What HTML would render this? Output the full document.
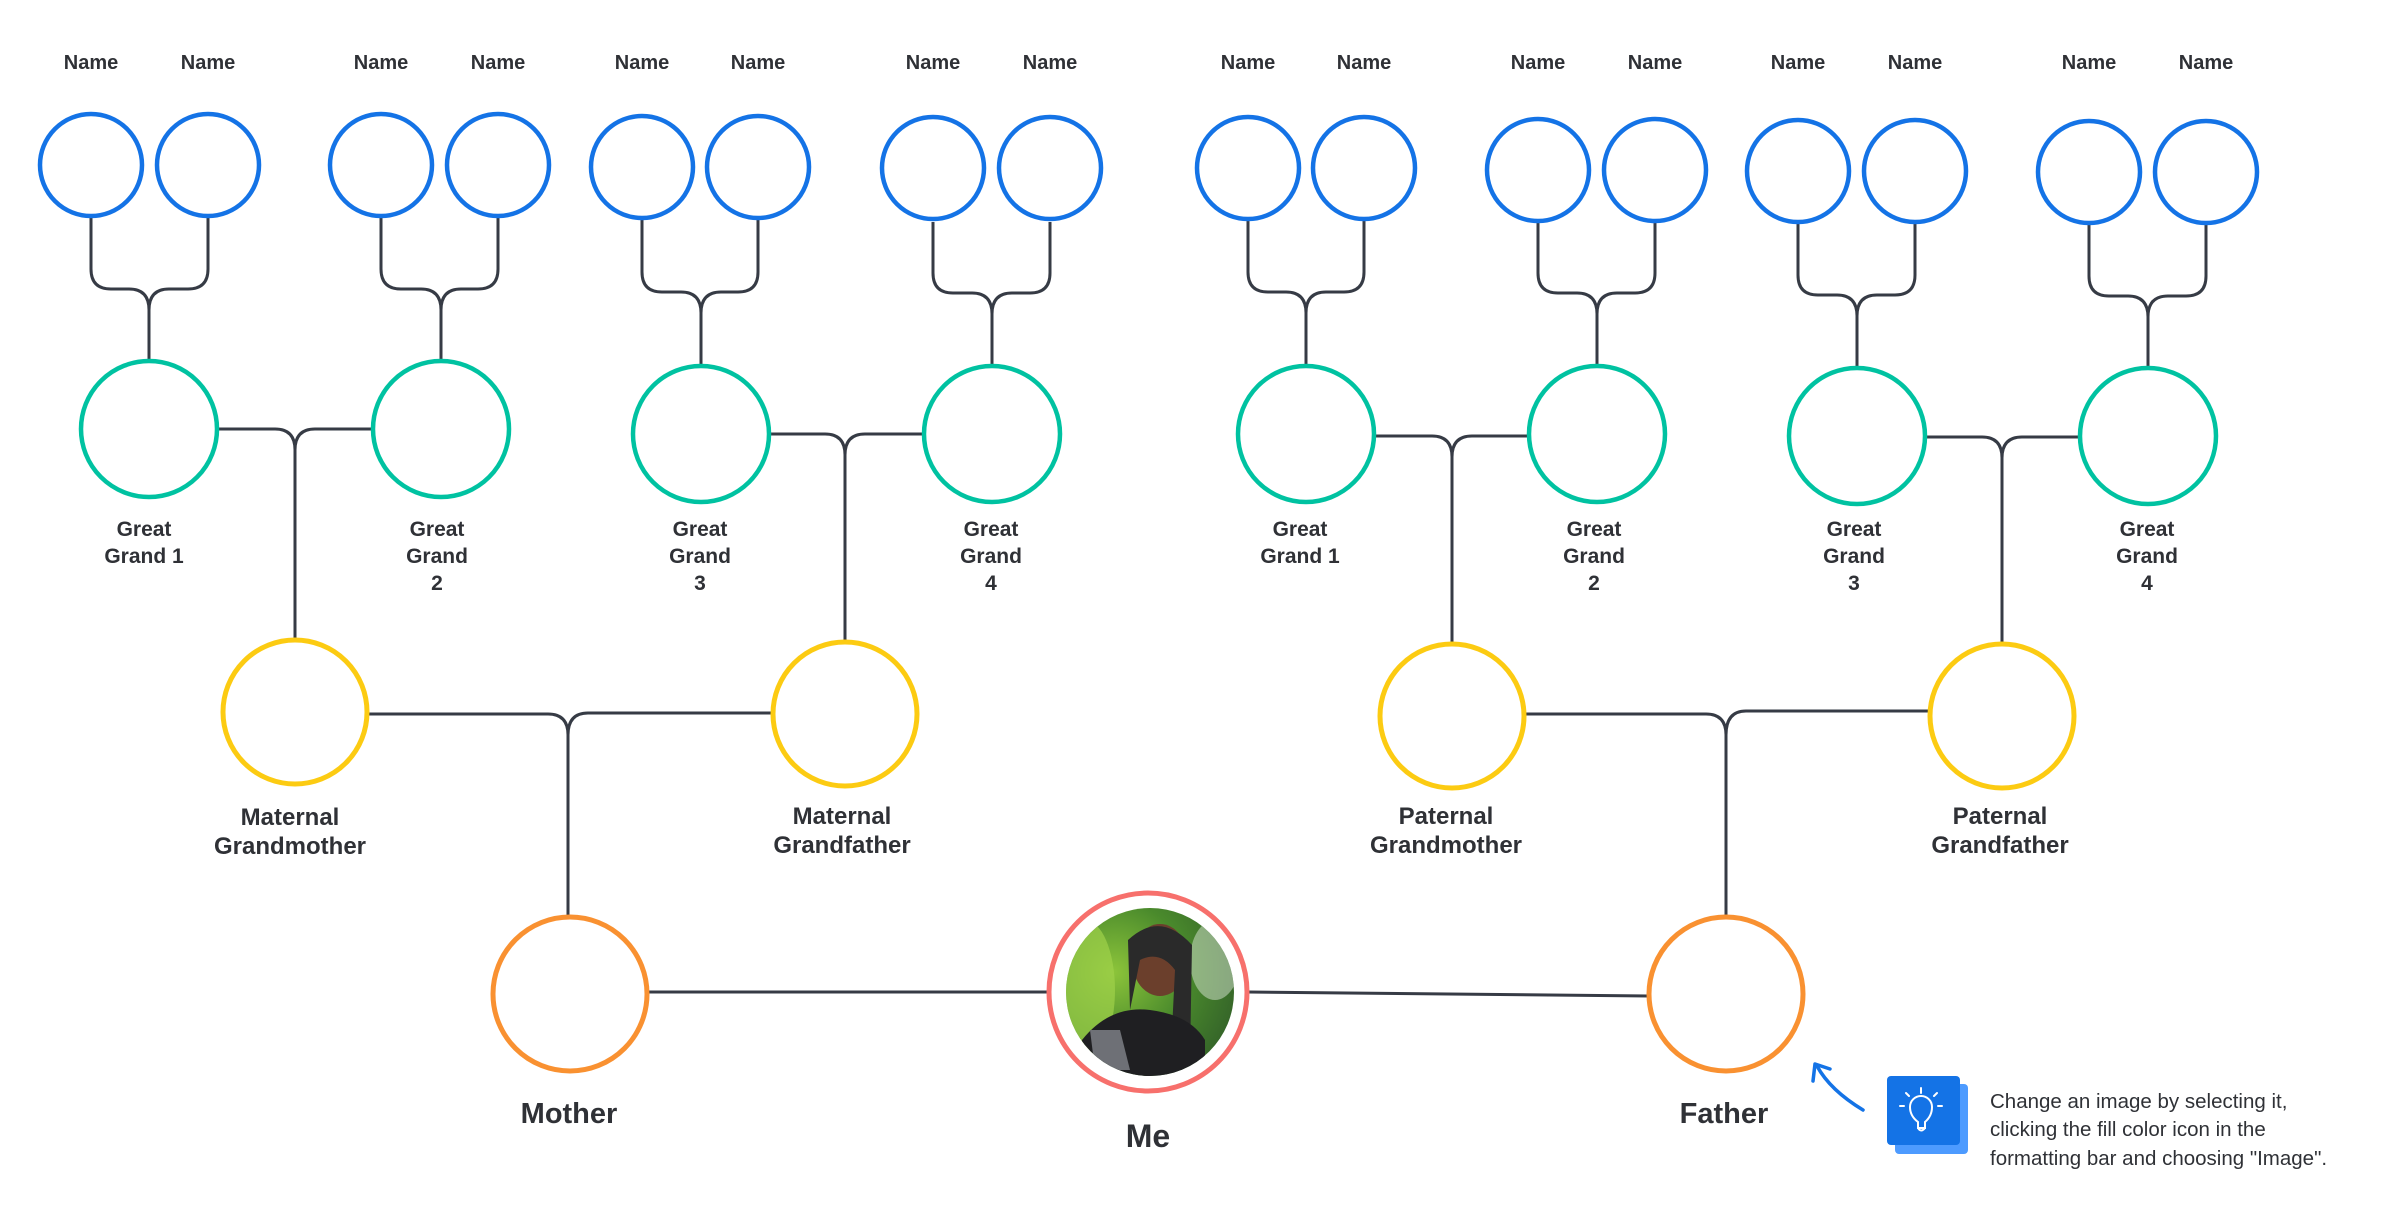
<!DOCTYPE html>
<html><head><meta charset="utf-8"><style>
html,body{margin:0;padding:0;background:#fff;}
svg{display:block;}
text{font-family:"Liberation Sans",sans-serif;font-weight:bold;fill:#2f3136;text-anchor:middle;}
</style></head><body>
<svg width="2400" height="1215" viewBox="0 0 2400 1215" xmlns="http://www.w3.org/2000/svg">
<defs>
<radialGradient id="bg" cx="0.3" cy="0.4" r="0.8">
<stop offset="0" stop-color="#8cc43a"/><stop offset="0.5" stop-color="#4a8a2c"/><stop offset="1" stop-color="#2f5a28"/>
</radialGradient>
<clipPath id="pc"><circle cx="1150" cy="992" r="84"/></clipPath>
</defs>
<g fill="none" stroke="#363b45" stroke-width="3">
<path d="M91 218 V269 Q91 289 111 289 H129 Q149 289 149 310 V360 M208 218 V269 Q208 289 188 289 H169 Q149 289 149 310"/>
<path d="M381 218 V269 Q381 289 401 289 H421 Q441 289 441 310 V360 M498 218 V269 Q498 289 478 289 H461 Q441 289 441 310"/>
<path d="M642 220 V272 Q642 292 662 292 H681 Q701 292 701 313 V365 M758 220 V272 Q758 292 738 292 H721 Q701 292 701 313"/>
<path d="M933 222 V273 Q933 293 953 293 H972 Q992 293 992 314 V365 M1050 222 V273 Q1050 293 1030 293 H1012 Q992 293 992 314"/>
<path d="M1248 220 V272 Q1248 292 1268 292 H1286 Q1306 292 1306 313 V365 M1364 220 V272 Q1364 292 1344 292 H1326 Q1306 292 1306 313"/>
<path d="M1538 222 V273 Q1538 293 1558 293 H1577 Q1597 293 1597 314 V365 M1655 222 V273 Q1655 293 1635 293 H1617 Q1597 293 1597 314"/>
<path d="M1798 224 V275 Q1798 295 1818 295 H1837 Q1857 295 1857 316 V367 M1915 224 V275 Q1915 295 1895 295 H1877 Q1857 295 1857 316"/>
<path d="M2089 225 V276 Q2089 296 2109 296 H2128 Q2148 296 2148 317 V367 M2206 225 V276 Q2206 296 2186 296 H2168 Q2148 296 2148 317"/>
<path d="M218 429 H275 Q295 429 295 450 V640 M372 429 H315 Q295 429 295 450"/>
<path d="M770 434 H825 Q845 434 845 455 V642 M923 434 H865 Q845 434 845 455"/>
<path d="M1375 436 H1432 Q1452 436 1452 457 V644 M1528 436 H1472 Q1452 436 1452 457"/>
<path d="M1926 437 H1982 Q2002 437 2002 458 V644 M2079 437 H2022 Q2002 437 2002 458"/>
<path d="M367 714 H548 Q568 714 568 735 V917 M773 713 H588 Q568 713 568 735"/>
<path d="M1524 714 H1706 Q1726 714 1726 735 V917 M1930 711 H1746 Q1726 711 1726 735"/>
<path d="M647 992 H1048"/>
<path d="M1248 992 L1649 996"/>
</g>
<g fill="#fff" stroke="#1473e6" stroke-width="4.5">
<circle cx="91" cy="165" r="51"/><circle cx="208" cy="165" r="51"/>
<circle cx="381" cy="165" r="51"/><circle cx="498" cy="165" r="51"/>
<circle cx="642" cy="167" r="51"/><circle cx="758" cy="167" r="51"/>
<circle cx="933" cy="168" r="51"/><circle cx="1050" cy="168" r="51"/>
<circle cx="1248" cy="168" r="51"/><circle cx="1364" cy="168" r="51"/>
<circle cx="1538" cy="170" r="51"/><circle cx="1655" cy="170" r="51"/>
<circle cx="1798" cy="171" r="51"/><circle cx="1915" cy="171" r="51"/>
<circle cx="2089" cy="172" r="51"/><circle cx="2206" cy="172" r="51"/>
</g>
<g fill="#fff" stroke="#00c2a1" stroke-width="4.5">
<circle cx="149" cy="429" r="68"/><circle cx="441" cy="429" r="68"/>
<circle cx="701" cy="434" r="68"/><circle cx="992" cy="434" r="68"/>
<circle cx="1306" cy="434" r="68"/><circle cx="1597" cy="434" r="68"/>
<circle cx="1857" cy="436" r="68"/><circle cx="2148" cy="436" r="68"/>
</g>
<g fill="#fff" stroke="#fccb12" stroke-width="5">
<circle cx="295" cy="712" r="72"/><circle cx="845" cy="714" r="72"/>
<circle cx="1452" cy="716" r="72"/><circle cx="2002" cy="716" r="72"/>
</g>
<g fill="#fff" stroke="#f99131" stroke-width="5">
<circle cx="570" cy="994" r="77"/><circle cx="1726" cy="994" r="77"/>
</g>
<circle cx="1148" cy="992" r="99" fill="#fff" stroke="#f7706c" stroke-width="5"/>
<g clip-path="url(#pc)">
<rect x="1060" y="900" width="180" height="180" fill="url(#bg)"/>
<ellipse cx="1085" cy="990" rx="30" ry="70" fill="#9fd24a" opacity="0.7"/>
<ellipse cx="1215" cy="960" rx="25" ry="40" fill="#d9e6d6" opacity="0.5"/>
<ellipse cx="1160" cy="960" rx="28" ry="36" fill="#6b3f2c"/>
<path d="M1128 940 Q1160 910 1192 945 L1190 1060 L1170 1070 L1175 970 Q1160 950 1140 960 L1130 1010 Z" fill="#2a2a2a"/>
<path d="M1082 1040 Q1110 1005 1150 1010 Q1190 1015 1205 1040 L1205 1080 L1080 1080 Z" fill="#1f1f22"/>
<path d="M1090 1030 L1120 1030 L1130 1070 L1095 1070 Z" fill="#6e7076"/>
</g>
<g font-size="20">
<text x="91" y="69">Name</text><text x="208" y="69">Name</text>
<text x="381" y="69">Name</text><text x="498" y="69">Name</text>
<text x="642" y="69">Name</text><text x="758" y="69">Name</text>
<text x="933" y="69">Name</text><text x="1050" y="69">Name</text>
<text x="1248" y="69">Name</text><text x="1364" y="69">Name</text>
<text x="1538" y="69">Name</text><text x="1655" y="69">Name</text>
<text x="1798" y="69">Name</text><text x="1915" y="69">Name</text>
<text x="2089" y="69">Name</text><text x="2206" y="69">Name</text>
</g>
<g font-size="21">
<text x="144" y="536">Great</text><text x="144" y="563">Grand 1</text>
<text x="437" y="536">Great</text><text x="437" y="563">Grand</text><text x="437" y="590">2</text>
<text x="700" y="536">Great</text><text x="700" y="563">Grand</text><text x="700" y="590">3</text>
<text x="991" y="536">Great</text><text x="991" y="563">Grand</text><text x="991" y="590">4</text>
<text x="1300" y="536">Great</text><text x="1300" y="563">Grand 1</text>
<text x="1594" y="536">Great</text><text x="1594" y="563">Grand</text><text x="1594" y="590">2</text>
<text x="1854" y="536">Great</text><text x="1854" y="563">Grand</text><text x="1854" y="590">3</text>
<text x="2147" y="536">Great</text><text x="2147" y="563">Grand</text><text x="2147" y="590">4</text>
</g>
<g font-size="24">
<text x="290" y="825">Maternal</text><text x="290" y="854">Grandmother</text>
<text x="842" y="824">Maternal</text><text x="842" y="853">Grandfather</text>
<text x="1446" y="824">Paternal</text><text x="1446" y="853">Grandmother</text>
<text x="2000" y="824">Paternal</text><text x="2000" y="853">Grandfather</text>
</g>
<text x="569" y="1123" font-size="29">Mother</text>
<text x="1724" y="1123" font-size="29">Father</text>
<text x="1148" y="1147" font-size="32">Me</text>
<rect x="1895" y="1084" width="73" height="70" rx="4" fill="#4d9bff"/>
<rect x="1887" y="1076" width="73" height="69" rx="4" fill="#1473e6"/>
<g fill="none" stroke="#fff" stroke-width="2" stroke-linecap="round">
<path d="M1918 1122 Q1910 1116 1910 1107 A11 11 0 0 1 1932 1107 Q1932 1116 1925 1122 V1128 H1918 Z"/>
<path d="M1918 1128 Q1921 1133 1925 1128"/>
<path d="M1921 1088 V1093 M1906 1093 L1909 1096 M1937 1093 L1934 1096 M1900 1106 H1904 M1938 1106 H1942"/>
</g>
<path d="M1863 1110 Q1830 1090 1817 1066" fill="none" stroke="#1473e6" stroke-width="3.5" stroke-linecap="round"/>
<path d="M1813 1081 L1815 1064 L1830 1069" fill="none" stroke="#1473e6" stroke-width="3.5" stroke-linecap="round" stroke-linejoin="round"/>
<g font-size="20.5">
<text x="1990" y="1108" style="font-weight:normal;text-anchor:start;">Change an image by selecting it,</text>
<text x="1990" y="1136" style="font-weight:normal;text-anchor:start;">clicking the fill color icon in the</text>
<text x="1990" y="1165" style="font-weight:normal;text-anchor:start;">formatting bar and choosing "Image".</text>
</g>
</svg>
</body></html>
